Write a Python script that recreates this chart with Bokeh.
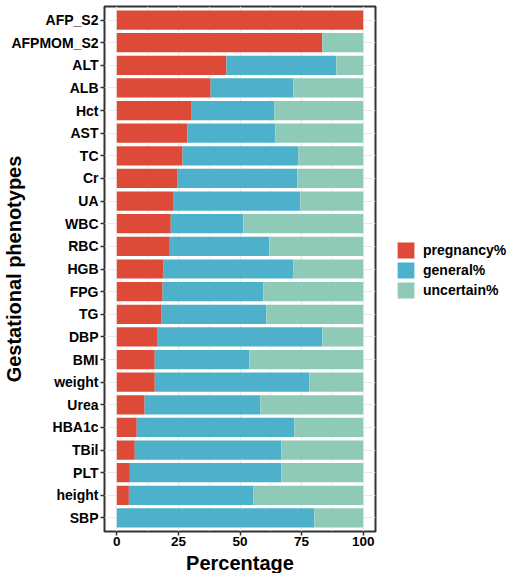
from bokeh.plotting import figure
from bokeh.models import ColumnDataSource, Range1d, FixedTicker, Legend, LegendItem
from bokeh.embed import file_html
from bokeh.resources import INLINE

phenotypes = ["AFP_S2", "AFPMOM_S2", "ALT", "ALB", "Hct", "AST", "TC", "Cr", "UA", "WBC",
              "RBC", "HGB", "FPG", "TG", "DBP", "BMI", "weight", "Urea", "HBA1c", "TBil",
              "PLT", "height", "SBP"]
pregnancy = [100, 83.4, 44.5, 38.1, 30.4, 28.7, 26.7, 24.7, 23.1, 21.9, 21.5, 19.0, 18.6,
             18.2, 16.6, 15.4, 15.4, 11.3, 8.1, 7.3, 5.3, 4.9, 0]
general = [0, 0, 44.6, 33.6, 33.6, 35.7, 47.0, 48.6, 51.4, 29.5, 40.4, 52.7, 40.9, 42.5,
           66.8, 38.4, 62.7, 47.0, 64.0, 59.5, 61.5, 50.6, 80.2]
uncertain = [0, 16.6, 10.9, 28.3, 36.0, 35.6, 26.3, 26.7, 25.5, 48.6, 38.1, 28.3, 40.5,
             39.3, 16.6, 46.2, 21.9, 41.7, 27.9, 33.2, 33.2, 44.5, 19.8]
series_names = ["pregnancy%", "general%", "uncertain%"]
x_ticks = [0, 25, 50, 75, 100]
colors = ["#DD4B38", "#4EB1CB", "#8FCAB9"]

n = len(phenotypes)
ypos = [n - 1 - i for i in range(n)]
src = ColumnDataSource(dict(y=ypos, pregnancy=pregnancy, general=general, uncertain=uncertain))

FONT = "Liberation Sans"
p = figure(frame_width=271, frame_height=525, min_border_left=100, min_border_right=140,
           min_border_top=6, min_border_bottom=0,
           x_range=Range1d(-5, 105), y_range=Range1d(-0.6, n - 0.4),
           output_backend="svg", toolbar_location=None)

rs = p.hbar_stack(["pregnancy", "general", "uncertain"], y="y", height=0.85, color=colors,
                  line_color=None, source=src)

legend = Legend(items=[LegendItem(label=series_names[i], renderers=[rs[i]]) for i in range(3)],
                location=(20, 231), orientation="vertical")
legend.glyph_width = 21
legend.glyph_height = 20
legend.spacing = 0
legend.padding = 0
legend.margin = 0
legend.label_standoff = 7
legend.label_text_font = FONT
legend.label_text_font_style = "bold"
legend.label_text_font_size = "14px"
legend.label_text_color = "black"
legend.border_line_color = None
legend.background_fill_alpha = 0
p.add_layout(legend, "right")

# axes
p.xaxis.ticker = FixedTicker(ticks=x_ticks, minor_ticks=[12.5, 37.5, 62.5, 87.5])
p.yaxis.ticker = FixedTicker(ticks=ypos)
p.yaxis.major_label_overrides = {ypos[i]: phenotypes[i] for i in range(n)}
for ax in (p.xaxis, p.yaxis):
    ax.axis_line_color = None
    ax.major_tick_in = 0
    ax.major_tick_out = 4
    ax.major_tick_line_color = "#333333"
    ax.major_tick_line_width = 1.5
    ax.minor_tick_line_color = None
    ax.major_label_text_font = FONT
    ax.major_label_text_font_style = "bold"
    ax.major_label_text_color = "black"
    ax.axis_label_text_font = FONT
    ax.axis_label_text_font_style = "bold"
    ax.axis_label_text_font_size = "20px"
    ax.axis_label_text_color = "black"
p.xaxis.major_label_text_font_size = "13.5px"
p.yaxis.major_label_text_font_size = "14px"
p.xaxis.major_label_standoff = 1
p.xaxis.axis_label_standoff = 3
p.yaxis.major_label_standoff = 2
p.yaxis.axis_label_standoff = -17
p.xaxis.axis_label = "Percentage"
p.yaxis.axis_label = "Gestational phenotypes"

# grid
p.xgrid.grid_line_color = "#EBEBEB"
p.xgrid.grid_line_width = 1.2
p.xgrid.minor_grid_line_color = "#EBEBEB"
p.xgrid.minor_grid_line_width = 0.8
p.ygrid.grid_line_color = "#EBEBEB"
p.ygrid.grid_line_width = 1.2

p.outline_line_color = "#333333"
p.outline_line_width = 2

open("out.html", "w").write(file_html(p, INLINE))
